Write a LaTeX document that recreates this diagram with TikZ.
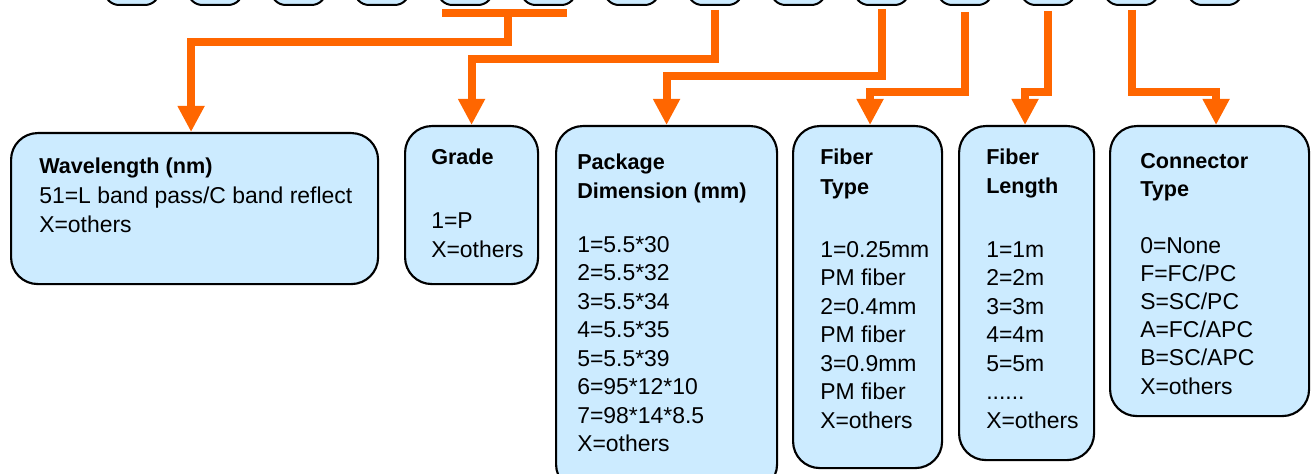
\documentclass[tikz,border=0pt]{standalone}
\usepackage{fontspec}
\setmainfont{Liberation Sans}
\usetikzlibrary{arrows.meta,calc}
\definecolor{boxfill}{RGB}{204,235,255}
\definecolor{conncol}{RGB}{255,102,0}
\newcommand{\sixdots}{......}
\begin{document}
\begin{tikzpicture}[x=0.75pt,y=-0.75pt,
  topbox/.style={draw=black, line width=1.5pt, fill=boxfill, rounded corners=11pt,
    minimum width=41.25pt, minimum height=45pt, anchor=south, inner sep=0pt},
  infobox/.style={draw=black, line width=1.6pt, fill=boxfill, rounded corners=20pt,
    anchor=north west, inner sep=0pt},
  conn/.style={draw=conncol, line width=6pt},
  arr/.style={conn, -{Triangle[width=19pt,length=19.5pt]}},
  ttl/.style={anchor=base west, inner sep=0pt, font=\bfseries\fontsize{16.2pt}{19pt}\selectfont},
  txt/.style={anchor=base west, inner sep=0pt, font=\fontsize{17.2pt}{20pt}\selectfont}]
\useasboundingbox (0,0) rectangle (1312,474);
\clip (0,0) rectangle (1312,474);
% top row of code boxes
\foreach \i in {0,...,13} \node[topbox] (t\i) at ({132+83.3*\i},6) {};
% information boxes
\node[infobox, minimum width=275.25pt, minimum height=113.25pt] (wl) at (10,132) {};
\node[infobox, minimum width=99.75pt, minimum height=118.5pt] (gr) at (404,125) {};
\node[infobox, minimum width=165.75pt, minimum height=273.75pt] (pd) at (555,125) {};
\node[infobox, minimum width=111.75pt, minimum height=256.5pt] (ft) at (792,125) {};
\node[infobox, minimum width=101.25pt, minimum height=250.5pt] (fl) at (958,125) {};
\node[infobox, minimum width=149.25pt, minimum height=217.5pt] (ct) at (1109,125) {};
% connectors
\coordinate (bl) at ($(t4.south)+(-23,7)$);
\coordinate (br) at ($(t5.south)+(18.5,7)$);
\coordinate (bm) at ($(bl)!0.53!(br)$);
\draw[conn] (bl) -- (br);
\draw[arr] (bm) -- ++(0,29) -| ($(wl.north)+(-3.5,0)$);
\draw[arr] ($(t7.south)+(0,4)$) |- ($(gr.north)+(0,-66)$) -- (gr.north);
\draw[arr] ($(t9.south)+(0,3)$) |- ($(pd.north)+(0,-49)$) -- (pd.north);
\draw[arr] ($(t10.south)+(0,6)$) |- ($(ft.north)+(2.5,-33)$) -- ($(ft.north)+(2.5,0)$);
\draw[arr] ($(t11.south)+(0,5)$) |- ($(fl.north)+(-1.5,-33)$) -- ($(fl.north)+(-1.5,0)$);
\draw[arr] ($(t12.south)+(0,4)$) |- ($(ct.north)+(6.5,-33)$) -- ($(ct.north)+(6.5,0)$);
% texts
\node[ttl] (wlt) at (39,173) {Wavelength (nm)};
\node[txt] (wl1) at (39,203) {51=L band pass/C band reflect};
\node[txt] (wl2) at (39,232) {X=others};
\node[ttl] (grt) at (431,165) {Grade};
\node[txt] (gr1) at (431,228) {1=P};
\node[txt] (gr2) at (431,257) {X=others};
\node[ttl] (pdt1) at (577,170) {Package};
\node[ttl] (pdt2) at (577,198) {Dimension (mm)};
\foreach \t [count=\i from 0] in {1=5.5*30,2=5.5*32,3=5.5*34,4=5.5*35,5=5.5*39,6=95*12*10,7=98*14*8.5,X=others}
  \node[txt] (pd\i) at (577,{252+28.5*\i}) {\t};
\node[ttl] (ftt1) at (820,165) {Fiber};
\node[ttl] (ftt2) at (820,194) {Type};
\foreach \t [count=\i from 0] in {1=0.25mm,PM fiber,2=0.4mm,PM fiber,3=0.9mm,PM fiber,X=others}
  \node[txt] (ft\i) at (820,{257+28.5*\i}) {\t};
\node[ttl] (flt1) at (986,165) {Fiber};
\node[ttl] (flt2) at (986,193) {Length};
\foreach \t [count=\i from 0] in {1=1m,2=2m,3=3m,4=4m,5=5m,\sixdots,X=others}
  \node[txt] (fl\i) at (986,{257+28.5*\i}) {\t};
\node[ttl] (ctt1) at (1140,168) {Connector};
\node[ttl] (ctt2) at (1140,196) {Type};
\foreach \t [count=\i from 0] in {0=None,F=FC/PC,S=SC/PC,A=FC/APC,B=SC/APC,X=others}
  \node[txt] (ct\i) at (1140,{253+28.2*\i}) {\t};
\end{tikzpicture}
\end{document}
